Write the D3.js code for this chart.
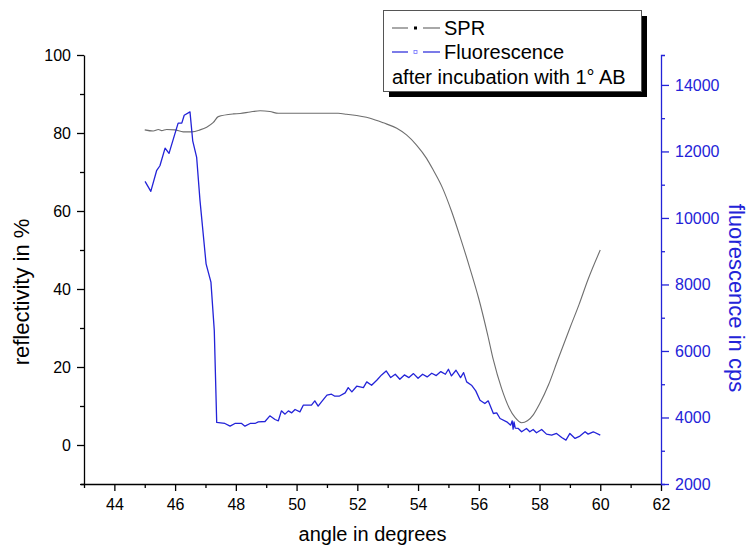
<!DOCTYPE html>
<html>
<head>
<meta charset="utf-8">
<script src="https://cdn.jsdelivr.net/npm/d3@7"></script>
<style>
  html, body { margin: 0; padding: 0; background: #fff; }
  svg { display: block; font-family: "Liberation Sans", Arial, sans-serif; }
</style>
</head>
<body>
<svg id="chart" width="751" height="549"></svg>
<script>
// ---------------- data ----------------
const sprAngle = [45.0, 45.28, 45.45, 45.56, 45.72, 45.99, 46.27, 46.55, 46.82, 47.04, 47.26, 47.42, 47.92, 48.14, 48.47, 48.8, 49.12, 49.4, 50.33, 51.37, 51.65, 52.42, 52.86, 53.3, 53.62, 53.95, 54.28, 54.5, 54.8, 55.1, 55.4, 55.7, 56.0, 56.3, 56.48, 56.75, 57.0, 57.2, 57.41, 57.6, 57.8, 58.0, 58.3, 58.6, 59.0, 59.3, 59.6, 60.0];
const sprValue = [80.8, 80.5, 80.9, 80.6, 80.9, 80.8, 80.3, 80.3, 80.8, 81.5, 82.7, 84.2, 84.9, 85.0, 85.4, 85.7, 85.5, 85.05, 85.05, 85.05, 84.8, 83.8, 82.6, 81.2, 79.5, 76.9, 73.5, 70.5, 66, 60, 53, 45.5, 37.5, 28, 21.8, 14.5, 9.5, 7, 5.7, 6.2, 7.8, 10.5, 15.5, 21.8, 30, 36, 42.5, 50];

const fluoAngle = [45.01, 45.2, 45.39, 45.5, 45.67, 45.8, 45.99, 46.1, 46.22, 46.3, 46.49, 46.58, 46.71, 46.82, 47.02, 47.18, 47.29, 47.37, 47.5, 47.64, 47.81, 47.97, 48.19, 48.3, 48.47, 48.63, 48.74, 48.96, 49.12, 49.29, 49.4, 49.5, 49.62, 49.73, 49.84, 49.95, 50.11, 50.22, 50.49, 50.6, 50.71, 50.82, 51.0, 51.15, 51.26, 51.4, 51.6, 51.7, 51.82, 51.98, 52.2, 52.31, 52.47, 52.64, 52.8, 52.95, 53.1, 53.25, 53.4, 53.55, 53.7, 53.85, 54.0, 54.15, 54.3, 54.45, 54.6, 54.75, 54.9, 55.0, 55.1, 55.25, 55.4, 55.5, 55.6, 55.76, 55.9, 56.04, 56.2, 56.31, 56.48, 56.59, 56.7, 56.92, 57.05, 57.1, 57.13, 57.16, 57.2, 57.3, 57.41, 57.57, 57.68, 57.79, 57.9, 58.07, 58.23, 58.4, 58.56, 58.73, 58.87, 59.0, 59.17, 59.33, 59.5, 59.6, 59.77, 60.0];
const fluoValue = [11100, 10800, 11420, 11570, 12100, 11940, 12520, 12850, 12850, 13090, 13190, 12320, 11820, 10520, 8620, 8070, 6620, 3850, 3840, 3820, 3740, 3820, 3820, 3740, 3820, 3820, 3870, 3880, 4050, 3940, 3900, 4200, 4100, 4200, 4140, 4240, 4170, 4370, 4370, 4500, 4340, 4470, 4670, 4700, 4640, 4640, 4740, 4900, 4770, 4940, 4900, 5070, 4970, 5120, 5280, 5400, 5200, 5300, 5150, 5280, 5200, 5320, 5180, 5300, 5220, 5330, 5260, 5380, 5300, 5450, 5250, 5420, 5200, 5350, 5070, 4970, 4800, 4520, 4420, 4500, 4120, 4140, 3970, 3870, 3770, 3900, 3650, 3870, 3680, 3670, 3570, 3670, 3570, 3640, 3540, 3640, 3500, 3470, 3520, 3400, 3320, 3520, 3370, 3440, 3570, 3500, 3570, 3470];

const xMajorTicks = [44, 46, 48, 50, 52, 54, 56, 58, 60, 62];
const xMinorTicks = [43, 45, 47, 49, 51, 53, 55, 57, 59, 61];
const yLeftMajorTicks = [0, 20, 40, 60, 80, 100];
const yLeftMinorTicks = [-10, 10, 30, 50, 70, 90];
const yRightMajorTicks = [2000, 4000, 6000, 8000, 10000, 12000, 14000];
const yRightMinorTicks = [3000, 5000, 7000, 9000, 11000, 13000];

const legendLabels = ["SPR", "Fluorescence", "after incubation with 1° AB"];
const xTitle = "angle in degrees";
const yLeftTitle = "reflectivity in %";
const yRightTitle = "fluorescence in cps";

// ---------------- layout ----------------
const BLUE = "#2323d8";
const GRAY = "#6e6e6e";
const pL = 84, pR = 661, pT = 55, pB = 484;

const svg = d3.select("#chart");
svg.append("rect").attr("width", 751).attr("height", 549).attr("fill", "#fff");

const x = d3.scaleLinear().domain([43, 62]).range([pL, pR]);
const yL = d3.scaleLinear().domain([-10, 100]).range([pB, pT]);
const yR = d3.scaleLinear().domain([2000, 14900]).range([pB, pT]);

// ---------------- axes ----------------
function styleAxis(g, color, size) {
  g.selectAll("path.domain").attr("stroke", color).attr("stroke-width", 1.3);
  g.selectAll(".tick line").attr("stroke", color).attr("stroke-width", 1.3);
  g.selectAll(".tick text").attr("fill", color).style("font-size", size + "px")
    .style("font-family", "'Liberation Sans', Arial, sans-serif");
}

// bottom
const gxMin = svg.append("g").attr("transform", `translate(0,${pB})`)
  .call(d3.axisBottom(x).tickValues(xMinorTicks).tickSize(4).tickFormat(""));
gxMin.select(".domain").remove();
styleAxis(gxMin, "#000", 16);
const gx = svg.append("g").attr("transform", `translate(0,${pB})`)
  .call(d3.axisBottom(x).tickValues(xMajorTicks).tickSize(7).tickSizeOuter(0).tickPadding(8).tickFormat(d3.format("d")));
styleAxis(gx, "#000", 16);
gx.select(".domain").attr("d", `M${x(43) - 3},0.5H${x(62)}`);

// left
const gyMin = svg.append("g").attr("transform", `translate(${pL},0)`)
  .call(d3.axisLeft(yL).tickValues(yLeftMinorTicks).tickSize(4).tickFormat(""));
gyMin.select(".domain").remove();
styleAxis(gyMin, "#000", 16);
const gy = svg.append("g").attr("transform", `translate(${pL},0)`)
  .call(d3.axisLeft(yL).tickValues(yLeftMajorTicks).tickSize(7).tickSizeOuter(0).tickPadding(6).tickFormat(d3.format("d")));
styleAxis(gy, "#000", 16);

// right
const grMin = svg.append("g").attr("transform", `translate(${pR},0)`)
  .call(d3.axisRight(yR).tickValues(yRightMinorTicks).tickSize(4).tickFormat(""));
grMin.select(".domain").remove();
styleAxis(grMin, BLUE, 16);
const gr = svg.append("g").attr("transform", `translate(${pR},0)`)
  .call(d3.axisRight(yR).tickValues(yRightMajorTicks).tickSize(8).tickSizeOuter(4).tickPadding(6).tickFormat(d3.format("d")));
styleAxis(gr, BLUE, 16);

// titles
svg.append("text").attr("x", (pL + pR) / 2).attr("y", 541)
  .attr("text-anchor", "middle").style("font-size", "20px").attr("fill", "#000").text(xTitle);
svg.append("text").attr("transform", `translate(29,292) rotate(-90)`)
  .attr("text-anchor", "middle").style("font-size", "22px").attr("fill", "#000").text(yLeftTitle);
svg.append("text").attr("transform", `translate(729,298) rotate(90)`)
  .attr("text-anchor", "middle").style("font-size", "22px").attr("fill", BLUE).text(yRightTitle);

// ---------------- lines ----------------
const sprData = sprAngle.map((a, i) => [a, sprValue[i]]);
const fluoData = fluoAngle.map((a, i) => [a, fluoValue[i]]);

svg.append("path").datum(sprData)
  .attr("fill", "none").attr("stroke", GRAY).attr("stroke-width", 1.1)
  .attr("d", d3.line().x(d => x(d[0])).y(d => yL(d[1])).curve(d3.curveMonotoneX));

svg.append("path").datum(fluoData)
  .attr("fill", "none").attr("stroke", BLUE).attr("stroke-width", 1.3).attr("stroke-linejoin", "round")
  .attr("d", d3.line().x(d => x(d[0])).y(d => yR(d[1])));

// ---------------- legend ----------------
const lg = svg.append("g");
lg.append("rect").attr("x", 389).attr("y", 16).attr("width", 258).attr("height", 81).attr("fill", "#000");
lg.append("rect").attr("x", 383.5).attr("y", 10.5).attr("width", 258).attr("height", 81)
  .attr("fill", "#fff").attr("stroke", "#555").attr("stroke-width", 1);

const rows = [
  { label: legendLabels[0], color: GRAY, marker: "#000", open: false, y: 28 },
  { label: legendLabels[1], color: BLUE, marker: BLUE, open: true, y: 52 }
];
rows.forEach(r => {
  lg.append("line").attr("x1", 392).attr("x2", 408).attr("y1", r.y).attr("y2", r.y)
    .attr("stroke", r.color).attr("stroke-width", 1.2);
  lg.append("line").attr("x1", 423).attr("x2", 440).attr("y1", r.y).attr("y2", r.y)
    .attr("stroke", r.color).attr("stroke-width", 1.2);
  if (r.open) {
    lg.append("rect").attr("x", 414).attr("y", r.y - 1.5).attr("width", 3).attr("height", 3)
      .attr("fill", "#fff").attr("stroke", "#7070ff").attr("stroke-width", 0.8);
  } else {
    lg.append("rect").attr("x", 414).attr("y", r.y - 1.5).attr("width", 3).attr("height", 3)
      .attr("fill", r.marker);
  }
  lg.append("text").attr("x", 444).attr("y", r.y + 7).style("font-size", "20px")
    .attr("fill", "#000").text(r.label);
});
lg.append("text").attr("x", 392).attr("y", 84).style("font-size", "20px")
  .attr("fill", "#000").text(legendLabels[2]);
</script>
</body>
</html>
